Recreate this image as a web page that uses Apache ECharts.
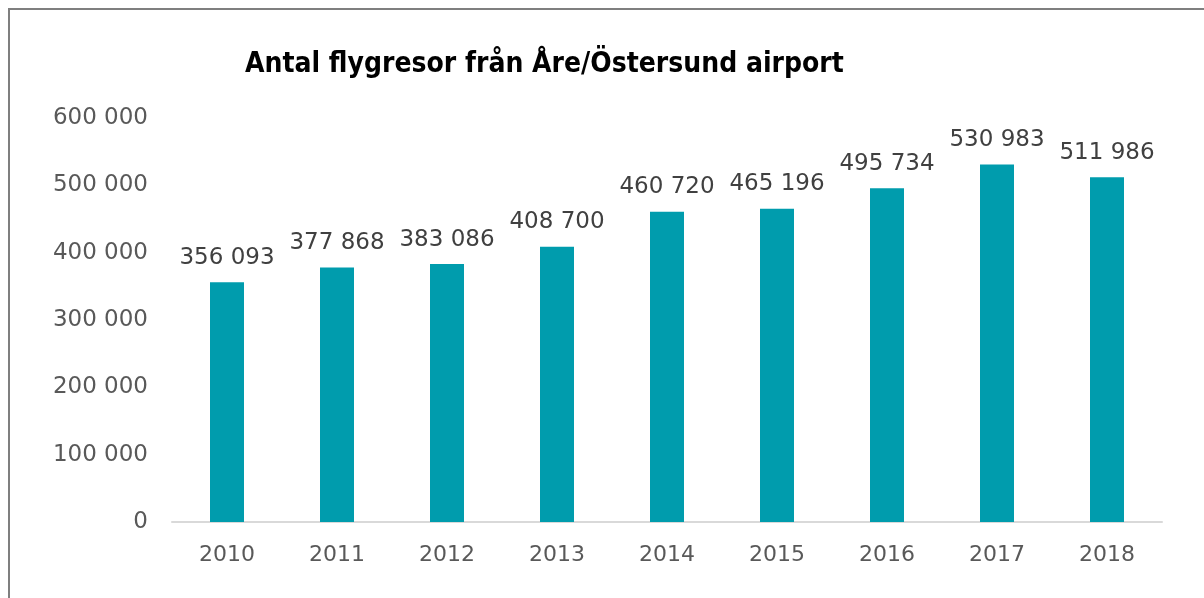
<!DOCTYPE html>
<html>
<head>
<meta charset="utf-8">
<title>Antal flygresor</title>
<script src="https://cdn.jsdelivr.net/npm/echarts@6/dist/echarts.min.js"></script>
<style>
  html, body { margin: 0; padding: 0; background: #fff; }
  #main { position: absolute; left: 0; top: 0; width: 1204px; height: 598px; }
  .frame-top { position: absolute; left: 8px; top: 8px; width: 1196px; height: 2px; background: #7f7f7f; }
  .frame-left { position: absolute; left: 8px; top: 8px; width: 2px; height: 590px; background: #7f7f7f; }
</style>
</head>
<body>
<div id="main"></div>
<div class="frame-top"></div>
<div class="frame-left"></div>
<script>
const years = ['2010', '2011', '2012', '2013', '2014', '2015', '2016', '2017', '2018']
const passengers = [356093, 377868, 383086, 408700, 460720, 465196, 495734, 530983, 511986]

// tusentalsavgränsare med mellanslag
function fmt(v) {
  return String(v).replace(/\B(?=(\d{3})+(?!\d))/g, ' ')
}

const chart = echarts.init(document.getElementById('main'))
chart.setOption({
  animation: false,
  title: {
    text: 'Antal flygresor från Åre/Östersund airport',
    left: 240,
    top: 46,
    textStyle: {
      fontFamily: '"DejaVu Sans Condensed", "Liberation Sans Narrow", sans-serif',
      fontWeight: 'bold',
      fontSize: 28,
      color: '#000'
    }
  },
  grid: {
    left: 172,
    right: 42,
    top: 118,
    bottom: 76
  },
  xAxis: {
    type: 'category',
    data: years,
    axisLine: { lineStyle: { color: '#d9d9d9', width: 2 } },
    axisTick: { show: false },
    axisLabel: {
      fontFamily: 'DejaVu Sans',
      fontSize: 22,
      color: '#595959',
      margin: 22
    }
  },
  yAxis: {
    type: 'value',
    min: 0,
    max: 600000,
    interval: 100000,
    splitLine: { show: false },
    axisLine: { show: false },
    axisTick: { show: false },
    axisLabel: {
      fontFamily: 'DejaVu Sans',
      fontSize: 23,
      color: '#595959',
      margin: 24,
      formatter: fmt
    }
  },
  series: [
    {
      type: 'bar',
      data: passengers,
      barWidth: 34,
      itemStyle: { color: '#009cad' },
      label: {
        show: true,
        position: 'top',
        distance: 13,
        fontFamily: 'DejaVu Sans',
        fontSize: 23,
        color: '#404040',
        formatter: (p) => fmt(p.value)
      }
    }
  ]
})
</script>
</body>
</html>
